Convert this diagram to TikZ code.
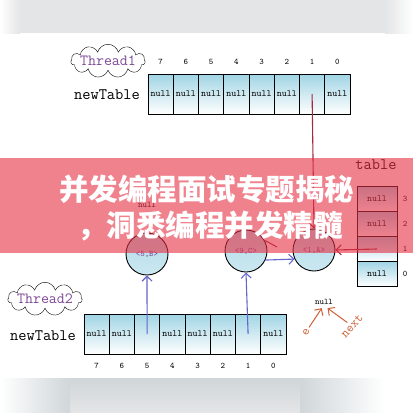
\documentclass[tikz,border=0pt]{standalone}
\usepackage{fontspec}
\newfontfamily\cjk{Noto Sans CJK SC}
\usetikzlibrary{shapes.symbols,arrows.meta}

\definecolor{cellblue}{RGB}{160,212,228}
\definecolor{linkblue}{RGB}{100,100,205}
\definecolor{linkred}{RGB}{165,40,60}
\definecolor{tagpurple}{RGB}{125,70,150}
\definecolor{notered}{RGB}{205,95,55}
\definecolor{bannerred}{RGB}{230,47,67}
\definecolor{bandgray}{RGB}{228,229,230}
\definecolor{bandgrayb}{RGB}{208,214,217}

\tikzset{
  cell/.style={draw, line width=0.8pt, inner sep=0pt, minimum width=25.25pt, minimum height=40pt,
    top color=cellblue, bottom color=white, font=\ttfamily\fontsize{9.5}{9.5}\selectfont},
  slot/.style={cell, minimum width=40pt, minimum height=25pt},
  entry/.style={circle, draw, line width=0.9pt, minimum size=42pt, inner sep=0pt,
    top color=cellblue!80, bottom color=cellblue!55, text=tagpurple, font=\ttfamily\fontsize{8.5}{8.5}\selectfont},
  idx/.style={font=\ttfamily\fontsize{8.5}{8.5}\selectfont},
  label/.style={font=\ttfamily\fontsize{16}{16}\selectfont},
  thread/.style={cloud, draw, cloud puffs=11, aspect=4, inner sep=-2pt, text=tagpurple,
    font=\ttfamily\fontsize{15.5}{15.5}\selectfont},
  bluelink/.style={->, draw=linkblue, line width=1.1pt},
  redlink/.style={->, draw=linkred, line width=1.1pt},
  notelink/.style={->, draw=notered, line width=1pt},
  note/.style={text=notered, inner sep=1pt, font=\ttfamily\fontsize{13}{13}\selectfont},
}

\begin{document}
\begin{tikzpicture}[x=1pt, y=-1pt, >={Straight Barb[length=5pt,width=10pt]}]
  \useasboundingbox (0,0) rectangle (413,413);
  % grey bands top and bottom
  \fill[bandgray] (20,0) rectangle (385,33);
  \shade[left color=white, right color=bandgray] (0,0) rectangle (20,33);
  \shade[left color=bandgray, right color=white] (385,0) rectangle (413,33);
  \shade[top color=bandgrayb, bottom color=bandgray] (70,378) rectangle (300,413);
  \shade[left color=white, right color=bandgrayb] (0,378) rectangle (70,413);
  \shade[left color=bandgrayb, right color=white] (300,378) rectangle (385,413);

  % Thread1
  \node[thread] (thr1) at (108,61) {Thread1};
  \node[label] (nt1) at (107,95) {newTable};
  \foreach \i/\txt [count=\k from 0] in {7/null,6/null,5/null,4/null,3/null,2/null,1/,0/null} {
    \node[cell] (t1c\i) at ({160.6+25.25*\k},94) {\txt};
    \node[idx] (t1n\i) at ({160.6+25.25*\k},62) {\i};
  }

  % table
  \node[label] (tbl) at (376,165) {table};
  \foreach \i/\y/\txt in {3/199/null,2/224/null,1/249/,0/274/null} {
    \node[slot] (tb\i) at (377,\y) {\txt};
    \node[idx] (tbn\i) at (405,\y) {\i};
  }

  % entries
  \node[entry] (entB) at (147,254) {<5,B>};
  \node[entry] (entC) at (246,251) {<9,C>};
  \node[entry] (entA) at (314,250) {<1,A>};
  \node[idx] (nullB) at (147,205) {null};

  % Thread2
  \node[thread] (thr2) at (45,299) {Thread2};
  \node[label] (nt2) at (43,336) {newTable};
  \foreach \i/\txt [count=\k from 0] in {7/null,6/null,5/,4/null,3/null,2/null,1/,0/null} {
    \node[cell] (t2c\i) at ({96.6+25.25*\k},334) {\txt};
    \node[idx] (t2n\i) at ({96.6+25.25*\k},366) {\i};
  }

  % links
  \draw[redlink] (t1c1.center) -- (entA.north);
  \draw[redlink] (tb1.center) -- (entA.east);
  \coordinate (cstub) at (277,247);
  \draw[draw=linkred, line width=1pt] (entC.30) -- (cstub);
  \draw[bluelink] (t2c5.center) -- (entB.south);
  \draw[bluelink] (t2c1.center) -- (entC.south);
  \draw[bluelink] (entC.-25) -- (entA.205);

  % e / next
  \node[idx] (nullE) at (324,302) {null};
  \node[note, rotate=60] (elab) at (306,332) {e};
  \node[note, rotate=48] (nextlab) at (352,326) {next};
  \draw[notelink, shorten <=1pt] (elab) -- (nullE.-110);
  \draw[notelink, shorten <=1pt] (nextlab) -- (nullE.-60);

  % banner
  \fill[bannerred, fill opacity=0.6] (0,158) rectangle (413,253);
  \node[text=white, font=\cjk\bfseries\fontsize{29.5}{29.5}\selectfont] (title1) at (207,189) {并发编程面试专题揭秘};
  \node[text=white, font=\cjk\bfseries\fontsize{29.5}{29.5}\selectfont] (title2) at (210,226) {，洞悉编程并发精髓};
\end{tikzpicture}
\end{document}
